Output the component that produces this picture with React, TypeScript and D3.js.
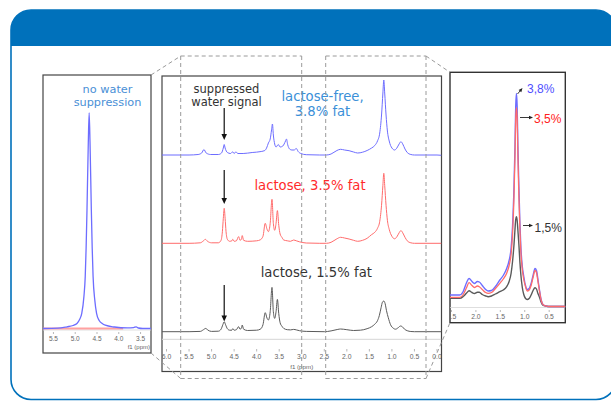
import React from 'react';
import * as d3 from 'd3';

const W = 611;
const H = 401;

// ---------- tick labels ----------
const midTicks = [6.0, 5.5, 5.0, 4.5, 4.0, 3.5, 3.0, 2.5, 2.0, 1.5, 1.0, 0.5, 0.0];
const leftTicks = [5.5, 5.0, 4.5, 4.0, 3.5];
const rightTicks = [2.5, 2.0, 1.5, 1.0, 0.5];

const waterPpm = 4.72;

// ---------- left panel (no water suppression) : [ppm, intensity] ----------
const leftBlue: [number, number][] = [
  [5.74, 0], [5.4, 0.3], [5.19, 1.7], [5.05, 3], [4.96, 5], [4.9, 9], [4.85, 15], [4.8, 32], [4.77, 52],
  [4.75, 80], [4.73, 118], [4.7, 185], [4.68, 215], [4.66, 185], [4.63, 118], [4.61, 80], [4.59, 52],
  [4.55, 28], [4.51, 15], [4.45, 8], [4.38, 5], [4.31, 3.3], [4.1, 1.5], [3.8, 0.6], [3.66, 0.9],
  [3.6, 1.7], [3.55, 0.5], [3.45, 0], [3.26, 0],
];
const leftRed: [number, number][] = [[5.74, 0], [4.5, 0], [3.9, 0]];

// ---------- middle panel : [ppm, intensity] ----------
const midBlue: [number, number][] = [
  [6.1, 0], [5.5, 0], [5.3, 0.5], [5.22, 2], [5.17, 5.5], [5.12, 2], [5.02, 0.5], [4.85, 0.5], [4.78, 2],
  [4.74, 7], [4.72, 10.5], [4.7, 7], [4.65, 2.5], [4.58, 1.5], [4.53, 3.2], [4.5, 1.5], [4.46, 3.2],
  [4.42, 1.5], [4.3, 1.5], [4.1, 2.5], [3.9, 3.5], [3.82, 4.5], [3.78, 7], [3.74, 12], [3.7, 16],
  [3.67, 25], [3.65, 31], [3.63, 20], [3.6, 11], [3.57, 8], [3.52, 10.5], [3.48, 8], [3.42, 9],
  [3.36, 14], [3.34, 16], [3.31, 10], [3.27, 6], [3.22, 5], [3.17, 5], [3.12, 6.5], [3.08, 3.5],
  [3.02, 1.5], [2.9, 0.3], [2.6, 0], [2.45, 0], [2.35, 1], [2.22, 4.5], [2.14, 5.7], [2.05, 5],
  [1.95, 4.3], [1.85, 3], [1.76, 2], [1.65, 2.8], [1.55, 4.5], [1.45, 7], [1.38, 9.5], [1.32, 14],
  [1.27, 22], [1.23, 40], [1.2, 62], [1.18, 75], [1.16, 62], [1.13, 40], [1.1, 24], [1.06, 14],
  [1.0, 7], [0.94, 5], [0.89, 7], [0.84, 11], [0.8, 13.3], [0.76, 11], [0.71, 6], [0.66, 2.5],
  [0.58, 0.5], [0.5, 0], [0, 0], [-0.1, -0.3],
];
const midRed: [number, number][] = [
  [6.1, 0], [5.5, 0], [5.25, 0.5], [5.18, 2.5], [5.14, 4], [5.09, 2], [5.0, 0.5], [4.85, 0.5], [4.79, 3],
  [4.76, 12], [4.74, 25], [4.72, 35], [4.7, 25], [4.68, 12], [4.65, 4], [4.6, 2], [4.55, 2.5], [4.53, 4],
  [4.5, 2], [4.45, 2.5], [4.4, 6.7], [4.37, 3], [4.34, 4], [4.32, 7.7], [4.29, 3], [4.2, 2], [4.0, 2.5],
  [3.92, 3.5], [3.86, 7], [3.81, 20], [3.77, 14], [3.74, 11.7], [3.7, 20], [3.66, 44], [3.63, 20],
  [3.6, 13], [3.57, 20], [3.54, 32.7], [3.51, 18], [3.48, 9.3], [3.44, 6], [3.4, 3.3], [3.32, 2.5],
  [3.25, 2], [3.18, 3.3], [3.12, 2.5], [3.05, 1.5], [2.9, 0.3], [2.6, 0], [2.45, 0], [2.35, 1],
  [2.22, 4.5], [2.14, 6], [2.05, 5.3], [1.95, 4.3], [1.85, 3], [1.76, 2], [1.65, 3], [1.55, 5],
  [1.45, 8.7], [1.38, 11], [1.32, 15], [1.27, 22], [1.23, 38], [1.2, 58], [1.18, 70], [1.16, 58],
  [1.13, 38], [1.1, 23], [1.06, 14], [1.0, 7], [0.94, 4.5], [0.89, 6.5], [0.84, 10.5], [0.8, 12.7],
  [0.76, 10.5], [0.71, 6], [0.66, 2.5], [0.58, 0.5], [0.5, 0], [-0.1, 0],
];
const midBlack: [number, number][] = [
  [6.1, 0], [5.5, 0], [5.25, 0.3], [5.18, 2], [5.13, 3.3], [5.08, 1.5], [5.0, 0.3], [4.85, 0.5],
  [4.79, 2.5], [4.75, 7], [4.72, 10], [4.69, 7], [4.65, 3], [4.6, 1.5], [4.55, 1.5], [4.53, 3],
  [4.5, 1.5], [4.45, 2], [4.4, 5], [4.37, 2.5], [4.34, 3.5], [4.32, 6.7], [4.29, 2.5], [4.2, 1.2],
  [4.0, 1.5], [3.92, 2.5], [3.86, 7], [3.81, 19], [3.77, 13.5], [3.74, 11.7], [3.7, 20], [3.66, 44.3],
  [3.63, 20], [3.6, 13.3], [3.57, 20], [3.54, 32.3], [3.51, 18], [3.48, 9], [3.44, 5.5], [3.4, 3.3],
  [3.32, 2], [3.25, 1.8], [3.18, 2.3], [3.12, 1.8], [3.05, 1], [2.9, 0.3], [2.5, 0], [2.35, 0.8],
  [2.2, 2.3], [2.14, 2.7], [2.0, 2], [1.85, 1.2], [1.7, 1.5], [1.55, 3], [1.45, 5], [1.38, 7.5],
  [1.32, 11], [1.28, 16], [1.24, 24], [1.21, 29.5], [1.18, 30.7], [1.15, 28], [1.12, 21], [1.08, 14],
  [1.03, 7], [0.97, 3.5], [0.92, 2.5], [0.86, 4], [0.81, 5.7], [0.77, 5], [0.72, 2.5], [0.66, 1],
  [0.58, 0.2], [0.5, 0], [-0.1, 0],
];

// ---------- right panel (zoom on fat signals) : [ppm, intensity] ----------
const rightBlue: [number, number][] = [
  [2.55, 11.5], [2.33, 11.5], [2.26, 15], [2.19, 24], [2.14, 28], [2.08, 25], [2.03, 23], [1.97, 25],
  [1.93, 24.5], [1.87, 21], [1.8, 17], [1.75, 15.5], [1.68, 16], [1.6, 20], [1.51, 26.5], [1.44, 31],
  [1.37, 38], [1.32, 46], [1.28, 58], [1.25, 80], [1.22, 120], [1.2, 160], [1.185, 200], [1.17, 213],
  [1.155, 200], [1.14, 160], [1.12, 120], [1.1, 85], [1.08, 60], [1.05, 40], [1.02, 30], [0.99, 22],
  [0.95, 17], [0.91, 18], [0.87, 23], [0.83, 31], [0.79, 38], [0.76, 36], [0.73, 27], [0.7, 17],
  [0.67, 8], [0.64, 3], [0.6, 1], [0.55, 0.3], [0.5, 0], [0.15, 0],
];
const rightRed: [number, number][] = [
  [2.55, 9.2], [2.33, 9.2], [2.26, 12], [2.19, 19], [2.14, 23.8], [2.08, 21], [2.03, 19], [1.97, 20.5],
  [1.93, 19.8], [1.87, 17], [1.8, 14], [1.75, 13.2], [1.68, 14], [1.6, 18], [1.51, 23.2], [1.44, 27.5],
  [1.37, 33.2], [1.32, 41], [1.28, 52], [1.25, 72], [1.22, 110], [1.2, 150], [1.185, 188], [1.17, 198.8],
  [1.155, 188], [1.14, 150], [1.12, 110], [1.1, 78], [1.08, 55], [1.05, 37], [1.02, 27], [0.99, 21],
  [0.95, 15.5], [0.91, 16.5], [0.87, 21], [0.83, 29], [0.79, 36], [0.76, 34], [0.73, 25], [0.7, 16],
  [0.67, 7.5], [0.64, 3], [0.6, 1], [0.55, 0.3], [0.5, 0], [0.15, 0],
];
const rightBlack: [number, number][] = [
  [2.55, 8.2], [2.33, 8.2], [2.26, 10], [2.19, 13.5], [2.14, 15.8], [2.08, 14], [2.03, 13], [1.97, 14.3],
  [1.93, 14.2], [1.87, 12], [1.8, 10.5], [1.75, 9.8], [1.68, 10.5], [1.6, 12.5], [1.51, 14.8], [1.44, 16.5],
  [1.37, 19.8], [1.32, 25], [1.28, 33], [1.25, 45], [1.22, 62], [1.2, 77], [1.185, 87], [1.17, 89.8],
  [1.155, 86], [1.14, 76], [1.12, 62], [1.1, 45], [1.08, 32], [1.05, 19], [1.02, 12], [0.99, 8.5],
  [0.95, 7], [0.91, 8], [0.87, 11.5], [0.83, 16], [0.79, 18.8], [0.76, 17.5], [0.73, 13], [0.7, 9.5],
  [0.67, 5], [0.64, 2], [0.6, 0.8], [0.55, 0.2], [0.5, 0], [0.15, 0],
];

// ---------- colours ----------
const BLUE_LINE = '#6d6dff';
const RED_LINE = '#ff6b6b';
const BLACK_LINE = '#5a5a5a';
const FRAME_BLUE = '#0071bb';
const DASH = '#9a9a9a';

function head(x1: number, y1: number, x2: number, y2: number, len: number, w: number) {
  const a = Math.atan2(y2 - y1, x2 - x1);
  const bx = x2 - len * Math.cos(a);
  const by = y2 - len * Math.sin(a);
  const px = -Math.sin(a) * w / 2;
  const py = Math.cos(a) * w / 2;
  return `${x2},${y2} ${bx + px},${by + py} ${bx - px},${by - py}`;
}

function Arrow({ x1, y1, x2, y2, len = 6, w = 5, color = '#111', sw = 1.2 }: any) {
  const a = Math.atan2(y2 - y1, x2 - x1);
  const ex = x2 - len * 0.8 * Math.cos(a);
  const ey = y2 - len * 0.8 * Math.sin(a);
  return (
    <g>
      <line x1={x1} y1={y1} x2={ex} y2={ey} stroke={color} strokeWidth={sw} />
      <polygon points={head(x1, y1, x2, y2, len, w)} fill={color} />
    </g>
  );
}

export default function App() {
  // frames
  const L = { x0: 43, x1: 151, y0: 75, y1: 353 };
  const M = { x0: 162, x1: 441.5, y0: 76, y1: 371.5 };
  const R = { x0: 450, x1: 565.3, y0: 72.3, y1: 322.7 };

  // scales
  const xL = d3.scaleLinear().domain([5.74, 3.26]).range([L.x0, L.x1]);
  const yL = d3.scaleLinear().domain([0, 215]).range([328.5, 113]);
  const xM = d3.scaleLinear().domain([6.1, -0.1]).range([M.x0, M.x1]);
  const yMBlue = d3.scaleLinear().domain([0, 100]).range([155, 55]);
  const yMRed = d3.scaleLinear().domain([0, 100]).range([243.3, 143.3]);
  const yMBlack = d3.scaleLinear().domain([0, 100]).range([331.7, 231.7]);
  const xR = d3.scaleLinear().domain([2.53, 0.17]).range([R.x0, R.x1]);
  const yR = d3.scaleLinear().domain([0, 220]).range([306.5, 86.5]);

  const mk = (xs: any, ys: any) =>
    d3.line<[number, number]>().x(d => xs(d[0])).y(d => ys(d[1])).curve(d3.curveMonotoneX);

  const wx = xM(waterPpm);
  const sans = "'DejaVu Sans', Verdana, sans-serif";
  const arial = "'Liberation Sans', Arial, sans-serif";

  const dashed = [
    // left zoom rectangle + connectors
    [151, 75, 180.7, 56], [180.7, 56, 301.7, 56], [180.7, 56, 180.7, 378.5], [301.7, 56, 301.7, 378.5],
    [180.7, 378.5, 301.7, 378.5], [151, 353, 180.7, 378.5],
    // right zoom rectangle + connectors
    [325.7, 56, 426, 56], [325.7, 56, 325.7, 378.5], [426, 56, 426, 378.5], [325.7, 378.5, 426, 378.5],
    [426, 56, 450, 72.3], [426, 378.5, 450, 322.7],
  ];

  return (
    <svg width={W} height={H} style={{ position: 'absolute', left: 0, top: 0, background: '#fff' }}>
      <defs>
        <clipPath id="frameClip">
          <rect x={11} y={10} width={605} height={389.5} rx={20} ry={20} />
        </clipPath>
        <clipPath id="rClip">
          <rect x={R.x0} y={R.y0} width={R.x1 - R.x0} height={R.y1 - R.y0} />
        </clipPath>
        <clipPath id="mClip">
          <rect x={M.x0} y={M.y0} width={M.x1 - M.x0} height={M.y1 - M.y0} />
        </clipPath>
      </defs>
      <rect x={0} y={0} width={W} height={H} fill="#fff" />

      {/* outer frame */}
      <rect x={10} y={10} width={610} height={36} fill={FRAME_BLUE} clipPath="url(#frameClip)" />
      <rect x={11} y={10} width={605} height={389.5} rx={20} ry={20} fill="none" stroke={FRAME_BLUE} strokeWidth={1.6} />

      {/* ---------- left panel ---------- */}
      <rect x={L.x0} y={L.y0} width={L.x1 - L.x0} height={L.y1 - L.y0} fill="#fff" stroke="#444" strokeWidth={1.2} />
      <line x1={L.x0} x2={L.x1} y1={330} y2={330} stroke="#d8d8d8" strokeWidth={0.8} />
      <path d={mk(xL, yL)(leftRed) || ''} fill="none" stroke="#ff8a8a" strokeWidth={2.2} opacity={0.8} />
      <path d={mk(xL, yL)(leftBlue) || ''} fill="none" stroke={BLUE_LINE} strokeWidth={1.3} />
      {leftTicks.map(t => (
        <g key={'lt' + t}>
          <line x1={xL(t)} x2={xL(t)} y1={332} y2={334} stroke="#999" strokeWidth={0.7} />
          <text x={xL(t)} y={340.5} fontSize={6.5} fill="#666" textAnchor="middle" fontFamily={arial}>{t.toFixed(1)}</text>
        </g>
      ))}
      <text x={L.x1 - 1} y={348.5} fontSize={6} fill="#666" textAnchor="end" fontFamily={arial}>f1 (ppm)</text>
      <text x={107.5} y={93} fontSize={11.3} fill="#4a8fd6" textAnchor="middle" fontFamily={sans}>no water</text>
      <text x={107.5} y={106} fontSize={11.3} fill="#4a8fd6" textAnchor="middle" fontFamily={sans}>suppression</text>

      {/* ---------- middle panel ---------- */}
      <rect x={M.x0} y={M.y0} width={M.x1 - M.x0} height={M.y1 - M.y0} fill="#fff" stroke="#444" strokeWidth={1.2} />
      <g clipPath="url(#mClip)">
        <line x1={M.x0} x2={M.x1} y1={339.3} y2={339.3} stroke="#d5d5d5" strokeWidth={1} />
        <path d={mk(xM, yMBlue)(midBlue) || ''} fill="none" stroke={BLUE_LINE} strokeWidth={1} />
        <path d={mk(xM, yMRed)(midRed) || ''} fill="none" stroke={RED_LINE} strokeWidth={1} />
        <path d={mk(xM, yMBlack)(midBlack) || ''} fill="none" stroke={BLACK_LINE} strokeWidth={1} />
        {midTicks.map(t => (
          <g key={'mt' + t}>
            <line x1={xM(t)} x2={xM(t)} y1={349} y2={351.5} stroke="#999" strokeWidth={0.7} />
            <text x={xM(t)} y={359} fontSize={6.8} fill="#666" textAnchor="middle" fontFamily={arial}>{t.toFixed(1)}</text>
          </g>
        ))}
      </g>
      <text x={301.7} y={369} fontSize={6.2} fill="#666" textAnchor="middle" fontFamily={arial}>f1 (ppm)</text>

      <text x={226.5} y={93} fontSize={11.5} fill="#333" textAnchor="middle" fontFamily={sans}>suppressed</text>
      <text x={226.5} y={106} fontSize={11.5} fill="#333" textAnchor="middle" fontFamily={sans}>water signal</text>
      <text x={322.5} y={101} fontSize={13.2} fill="#3b8fd8" textAnchor="middle" fontFamily={sans}>lactose-free,</text>
      <text x={322.5} y={115.5} fontSize={13.2} fill="#3b8fd8" textAnchor="middle" fontFamily={sans}>3.8% fat</text>
      <text x={310} y={189.5} fontSize={13.2} fill="#ff2b2b" textAnchor="middle" fontFamily={sans}>lactose, 3.5% fat</text>
      <text x={316.3} y={277} fontSize={13.2} fill="#333" textAnchor="middle" fontFamily={sans}>lactose, 1.5% fat</text>

      <Arrow x1={wx} y1={108} x2={wx} y2={140} len={6} w={5.5} />
      <Arrow x1={wx} y1={170} x2={wx} y2={204} len={6} w={5.5} />
      <Arrow x1={wx} y1={285} x2={wx} y2={321.5} len={6} w={5.5} />

      {/* ---------- right panel ---------- */}
      <rect x={R.x0} y={R.y0} width={R.x1 - R.x0} height={R.y1 - R.y0} fill="#fff" stroke="#333" strokeWidth={1.4} />
      <g clipPath="url(#rClip)">
        <line x1={R.x0} x2={R.x1} y1={307.5} y2={307.5} stroke="#d5d5d5" strokeWidth={0.8} />
        <path d={mk(xR, yR)(rightBlack) || ''} fill="none" stroke={BLACK_LINE} strokeWidth={1.4} />
        <path d={mk(xR, yR)(rightBlue) || ''} fill="none" stroke={BLUE_LINE} strokeWidth={1.4} />
        <path d={mk(xR, yR)(rightRed) || ''} fill="none" stroke={RED_LINE} strokeWidth={1.3} />
        {rightTicks.map(t => (
          <g key={'rt' + t}>
            <line x1={xR(t)} x2={xR(t)} y1={310} y2={312} stroke="#999" strokeWidth={0.7} />
            <text x={xR(t)} y={319} fontSize={6.8} fill="#666" textAnchor="middle" fontFamily={arial}>{t.toFixed(1)}</text>
          </g>
        ))}
      </g>

      <Arrow x1={517.5} y1={94} x2={522.5} y2={88} len={4} w={3.5} sw={0.9} color="#222" />
      <Arrow x1={520} y1={117.5} x2={533} y2={117.5} len={4} w={3.5} sw={0.9} color="#222" />
      <Arrow x1={523} y1={225.5} x2={533} y2={225.5} len={4} w={3.5} sw={0.9} color="#222" />
      <text x={527} y={92.5} fontSize={12} fill="#4f4fff" fontFamily={arial}>3,8%</text>
      <text x={534} y={122.5} fontSize={12} fill="#ff2020" fontFamily={arial}>3,5%</text>
      <text x={534.5} y={232} fontSize={12} fill="#333" fontFamily={arial}>1,5%</text>

      {/* ---------- dashed zoom guides ---------- */}
      {dashed.map((d, i) => (
        <line key={'d' + i} x1={d[0]} y1={d[1]} x2={d[2]} y2={d[3]} stroke={DASH} strokeWidth={1} strokeDasharray="4 3" />
      ))}
    </svg>
  );
}
